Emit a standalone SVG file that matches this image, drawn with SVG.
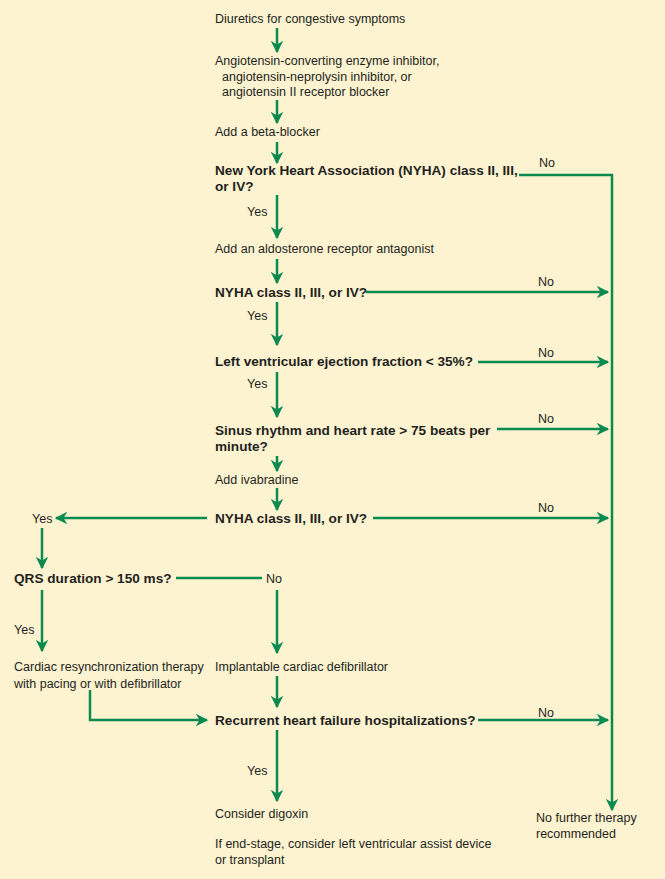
<svg xmlns="http://www.w3.org/2000/svg" width="665" height="879" viewBox="0 0 665 879">
<style>
text{font-family:"Liberation Sans Narrow","Liberation Sans",Arial,sans-serif;font-size:12.5px;fill:#231f20}
.b{font-weight:bold;font-size:13.6px}
.c line,.c path{stroke:#0a8a4f;stroke-width:2.5;fill:none}
.a{marker-end:url(#ah)}
</style>
<defs><marker id="ah" viewBox="0 0 10 10" refX="9" refY="5" markerWidth="5" markerHeight="5" markerUnits="strokeWidth" orient="auto"><path d="M0,0 L10,5 L0,10 L3,5 Z" fill="#0a8a4f"/></marker></defs>
<rect width="665" height="879" fill="#fdf3d1"/>
<g class="c" id="connectors">
<line class="a" x1="277" y1="28" x2="277" y2="52"/>
<line class="a" x1="277" y1="100" x2="277" y2="123"/>
<line class="a" x1="277" y1="142" x2="277" y2="163"/>
<path class="a" d="M519,175 H612 V810"/>
<line class="a" x1="277" y1="195" x2="277" y2="238"/>
<line class="a" x1="277" y1="259" x2="277" y2="283"/>
<line class="a" x1="366" y1="292" x2="608" y2="292"/>
<line class="a" x1="277" y1="302" x2="277" y2="345"/>
<line class="a" x1="478" y1="362" x2="608" y2="362"/>
<line class="a" x1="277" y1="372" x2="277" y2="417"/>
<line class="a" x1="497" y1="429" x2="608" y2="429"/>
<line class="a" x1="277" y1="456" x2="277" y2="471"/>
<line class="a" x1="277" y1="488" x2="277" y2="510"/>
<line class="a" x1="373" y1="518" x2="608" y2="518"/>
<line class="a" x1="207" y1="518" x2="56" y2="518"/>
<line class="a" x1="42" y1="528" x2="42" y2="568"/>
<line x1="176" y1="578" x2="262" y2="578"/>
<line class="a" x1="277" y1="590" x2="277" y2="653"/>
<line class="a" x1="42" y1="590" x2="42" y2="651"/>
<line class="a" x1="277" y1="676" x2="277" y2="707"/>
<path class="a" d="M90,690 V720 H207"/>
<line class="a" x1="478" y1="720" x2="608" y2="720"/>
<line class="a" x1="277" y1="730" x2="277" y2="801"/>
</g>
<g id="n1"><text x="215" y="23">Diuretics for congestive symptoms</text></g>
<g id="n2"><text x="215" y="65">Angiotensin-converting enzyme inhibitor,</text><text x="222" y="81">angiotensin-neprolysin inhibitor, or</text><text x="222" y="96">angiotensin II receptor blocker</text></g>
<g id="n3"><text x="215" y="136">Add a beta-blocker</text></g>
<g id="n4"><text class="b" x="215" y="175">New York Heart Association (NYHA) class II, III,</text><text class="b" x="215" y="191">or IV?</text></g>
<g id="n5"><text x="215" y="253">Add an aldosterone receptor antagonist</text></g>
<g id="n6"><text class="b" x="215" y="297">NYHA class II, III, or IV?</text></g>
<g id="n7"><text class="b" x="215" y="366">Left ventricular ejection fraction &lt; 35%?</text></g>
<g id="n8"><text class="b" x="215" y="435">Sinus rhythm and heart rate &gt; 75 beats per</text><text class="b" x="215" y="451">minute?</text></g>
<g id="n9"><text x="215" y="484">Add ivabradine</text></g>
<g id="n10"><text class="b" x="215" y="523">NYHA class II, III, or IV?</text></g>
<g id="n11"><text class="b" x="14" y="583">QRS duration &gt; 150 ms?</text></g>
<g id="n12"><text x="14" y="671">Cardiac resynchronization therapy</text><text x="14" y="688">with pacing or with defibrillator</text></g>
<g id="n13"><text x="215" y="671">Implantable cardiac defibrillator</text></g>
<g id="n14"><text class="b" x="215" y="725">Recurrent heart failure hospitalizations?</text></g>
<g id="n15"><text x="215" y="818">Consider digoxin</text><text x="215" y="848">If end-stage, consider left ventricular assist device</text><text x="215" y="864">or transplant</text></g>
<g id="n16"><text x="536" y="822">No further therapy</text><text x="536" y="838">recommended</text></g>
<g id="labels">
<text x="539" y="167">No</text><text x="247" y="216">Yes</text>
<text x="538" y="286">No</text><text x="247" y="320">Yes</text>
<text x="538" y="357">No</text><text x="247" y="388">Yes</text>
<text x="538" y="423">No</text>
<text x="538" y="512">No</text><text x="32" y="523">Yes</text>
<text x="266" y="583">No</text><text x="14" y="634">Yes</text>
<text x="538" y="717">No</text><text x="247" y="775">Yes</text>
</g>
</svg>
